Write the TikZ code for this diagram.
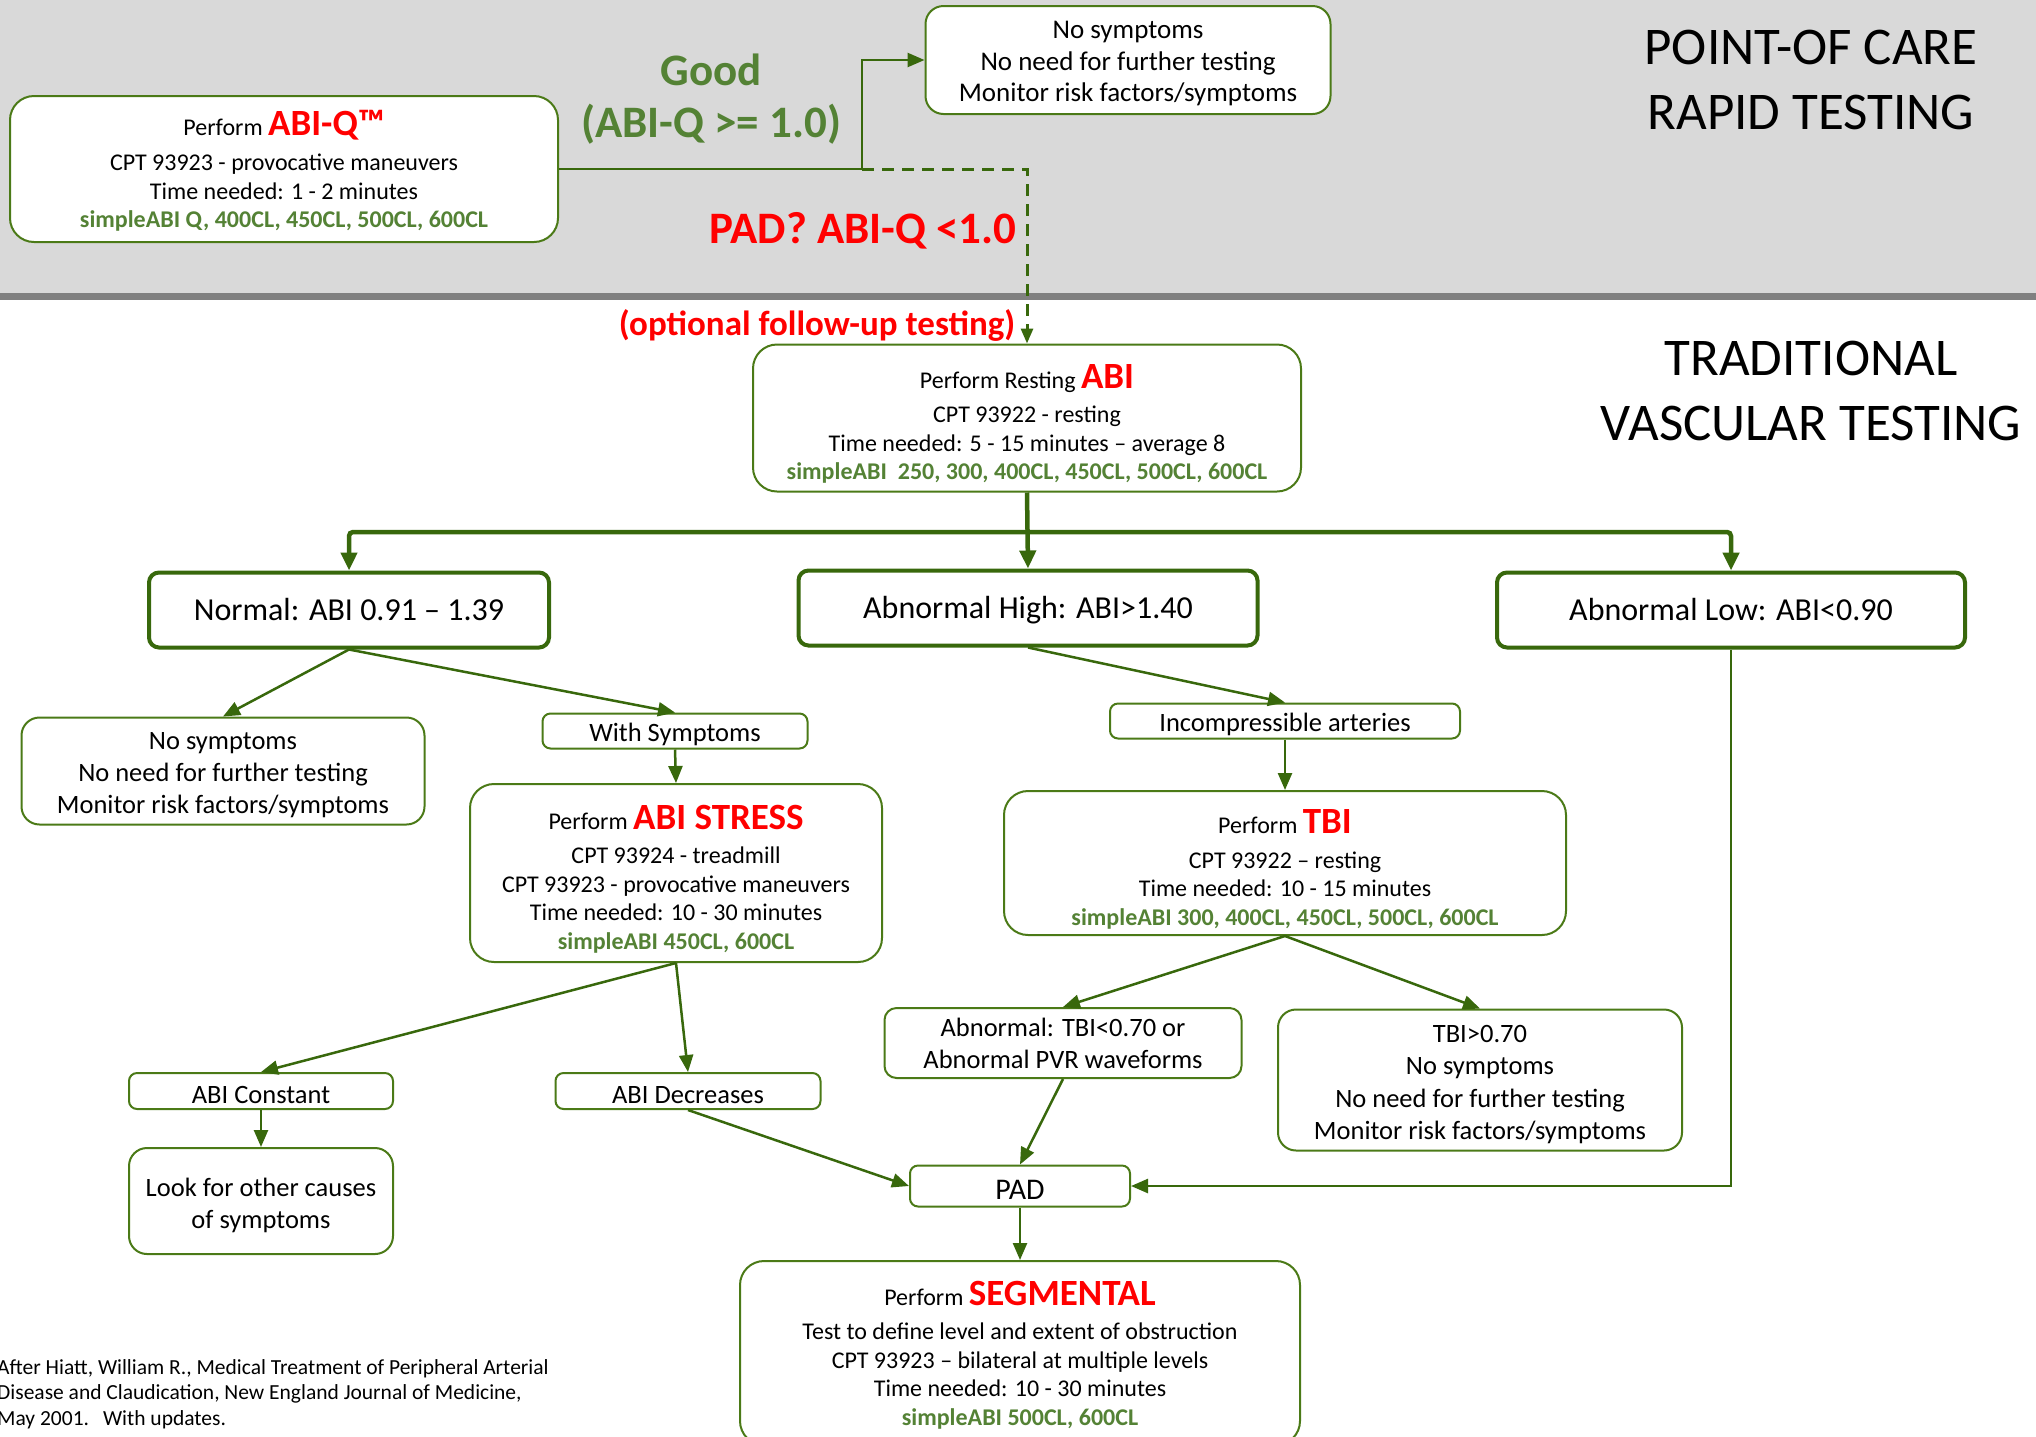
\documentclass[tikz,border=0pt]{standalone}
\usepackage{fontspec}
\setmainfont{Carlito}
\usetikzlibrary{arrows.meta}

\definecolor{linegreen}{RGB}{56,104,12}
\definecolor{boxgreen}{RGB}{75,122,23}
\definecolor{textgreen}{RGB}{84,130,53}
\definecolor{textred}{RGB}{255,0,0}
\definecolor{topgray}{RGB}{217,217,217}
\definecolor{bandgray}{RGB}{128,128,128}

\newcommand{\fsz}[2]{\fontsize{#1}{#2}\selectfont}
\newcommand{\testname}[1]{{\color{textred}\bfseries\fsz{37}{37}#1}}
\newcommand{\abimodels}[1]{{\color{textgreen}\bfseries #1}}
\newcommand{\topgap}[1]{\rule{0pt}{#1pt}}

\begin{document}
\begin{tikzpicture}[x=1pt, y=-1pt,
    bigbox/.style={draw=boxgreen, line width=2pt, fill=white, rounded corners=24pt, align=center, inner sep=0pt, font=\fsz{24}{28.5}},
    smallbox/.style={draw=boxgreen, line width=2pt, fill=white, rounded corners=8pt, align=center, inner sep=0pt, font=\fsz{26.5}{32}, execute at begin node={\topgap{26}}},
    rangebox/.style={draw=linegreen, line width=4pt, fill=white, rounded corners=10pt, align=center, inner sep=0pt, font=\fsz{32}{36}},
    arr/.style={draw=linegreen, line width=2.5pt, -{Triangle[length=17pt,width=14pt]}},
    busarr/.style={draw=linegreen, line width=4.5pt, rounded corners=4pt, -{Triangle[length=18pt,width=16pt]}},
    dasharr/.style={draw=linegreen, line width=3pt, dash pattern=on 12pt off 8pt, -{Triangle[length=15pt,width=12pt]}}]

    \useasboundingbox (0,0) rectangle (2036,1436);

    % Background
    \fill[topgray] (0,0) rectangle (2036,293);
    \fill[bandgray] (0,293) rectangle (2036,300);

    % Titles
    \node (poc) [font=\fsz{53}{65}, align=center] at (1811,80) {POINT-OF CARE\\RAPID TESTING};
    \node (trad) [font=\fsz{53}{65}, align=center] at (1811,391) {TRADITIONAL\\VASCULAR TESTING};

    % Nodes
    \node (abiq) [bigbox, minimum width=548pt, minimum height=146pt] at (284,169) {\topgap{29}Perform \testname{ABI-Q™}\\[7pt] CPT 93923 - provocative maneuvers\\ Time needed: 1 - 2 minutes\\ \abimodels{simpleABI Q, 400CL, 450CL, 500CL, 600CL}};
    \node (good) [bigbox, rounded corners=18pt, font=\fsz{27}{31.5}, minimum width=405pt, minimum height=108pt] at (1128,60) {\topgap{25}No symptoms\\ No need for further testing\\ Monitor risk factors/symptoms};
    \node (abi) [bigbox, minimum width=548pt, minimum height=147pt] at (1027,418) {\topgap{36}Perform Resting \testname{ABI}\\[6pt] CPT 93922 - resting\\ Time needed: 5 - 15 minutes – average 8\\ \abimodels{simpleABI\ \ 250, 300, 400CL, 450CL, 500CL, 600CL}};

    \node (normal) [rangebox, minimum width=400pt, minimum height=75pt] at (349,610) {Normal: ABI 0.91 – 1.39};
    \node (high) [rangebox, minimum width=459pt, minimum height=75pt] at (1028,608) {\topgap{27}Abnormal High: ABI>1.40};
    \node (low) [rangebox, minimum width=468pt, minimum height=75pt] at (1731,610) {Abnormal Low: ABI<0.90};

    \node (nosym) [smallbox, rounded corners=18pt, minimum width=403pt, minimum height=107pt] at (223,771) {\topgap{25}No symptoms\\ No need for further testing\\ Monitor risk factors/symptoms};
    \node (withsym) [smallbox, minimum width=265pt, minimum height=35pt] at (675,731) {With Symptoms};
    \node (stress) [bigbox, minimum width=412pt, minimum height=178pt] at (676,873) {\topgap{36}Perform \testname{ABI STRESS}\\[6pt] CPT 93924 - treadmill\\ CPT 93923 - provocative maneuvers\\ Time needed: 10 - 30 minutes\\ \abimodels{simpleABI 450CL, 600CL}};
    \node (constant) [smallbox, minimum width=264pt, minimum height=36pt] at (261,1091) {ABI Constant};
    \node (decr) [smallbox, minimum width=265pt, minimum height=36pt] at (688,1091) {ABI Decreases};
    \node (look) [smallbox, rounded corners=18pt, minimum width=264pt, minimum height=106pt] at (261,1201) {\topgap{27}Look for other causes\\ of symptoms};

    \node (incomp) [smallbox, minimum width=350pt, minimum height=35pt] at (1285,721) {Incompressible arteries};
    \node (tbi) [bigbox, minimum width=562pt, minimum height=144pt] at (1285,863) {\topgap{37}Perform \testname{TBI}\\[6pt] CPT 93922 – resting\\ Time needed: 10 - 15 minutes\\ \abimodels{simpleABI 300, 400CL, 450CL, 500CL, 600CL}};
    \node (abntbi) [smallbox, rounded corners=12pt, minimum width=357pt, minimum height=70pt] at (1063,1043) {Abnormal: TBI<0.70 or\\ Abnormal PVR waveforms};
    \node (tbiok) [smallbox, rounded corners=18pt, font=\fsz{26.5}{32.5}, minimum width=404pt, minimum height=141pt] at (1480,1080) {\topgap{26}TBI>0.70\\ No symptoms\\ No need for further testing\\ Monitor risk factors/symptoms};

    \node (pad) [smallbox, font=\fsz{30}{30}, minimum width=220pt, minimum height=41pt] at (1020,1186) {PAD};
    \node (seg) [bigbox, minimum width=560pt, minimum height=184pt] at (1020,1353) {\topgap{28}Perform \testname{SEGMENTAL}\\[6pt] Test to define level and extent of obstruction\\ CPT 93923 – bilateral at multiple levels\\ Time needed: 10 - 30 minutes\\ \abimodels{simpleABI 500CL, 600CL}};

    % Labels
    \node (goodlbl) [font=\bfseries\fsz{45}{52}, text=textgreen, align=center] at (711,99) {Good\\(ABI-Q >= 1.0)};
    \node (padlbl) [font=\bfseries\fsz{45}{45}, text=textred] at (863,231) {PAD? ABI-Q <1.0};
    \node (optlbl) [font=\bfseries\fsz{35}{35}, text=textred] at (817,325) {(optional follow-up testing)};
    \node (cite) [anchor=west, align=left, inner sep=0pt, font=\fsz{21.5}{25.5}] at (-3,1394) {After Hiatt, William R., Medical Treatment of Peripheral Arterial\\ Disease and Claudication, New England Journal of Medicine,\\ May 2001.\hspace{14pt}With updates.};

    % Arrows
    \coordinate (split) at (862,169);
    \coordinate (bus) at (1028,532);
    \draw [arr] (abiq.east) -- (split) |- (good.west);
    \draw [dasharr] (split) -| (abi.north);
    \draw [busarr] (abi.south) -- (high.north);
    \draw [busarr] (bus) -| (normal.north);
    \draw [busarr] (bus) -| (low.north);

    \draw [arr] (normal.south) -- (nosym.north);
    \draw [arr] (normal.south) -- (withsym.north);
    \draw [arr] (withsym.south) -- (stress.north);
    \draw [arr] (stress.south) -- (constant.north);
    \draw [arr] (stress.south) -- (decr.north);
    \draw [arr] (constant.south) -- (look.north);
    \draw [arr] (decr.south) -- (pad.west);

    \draw [arr] (high.south) -- (incomp.north);
    \draw [arr] (incomp.south) -- (tbi.north);
    \draw [arr] (tbi.south) -- (abntbi.north);
    \draw [arr] (tbi.south) -- (tbiok.north);
    \draw [arr] (abntbi.south) -- (pad.north);
    \draw [arr] (low.south) |- (pad.east);
    \draw [arr] (pad.south) -- (seg.north);

\end{tikzpicture}
\end{document}
